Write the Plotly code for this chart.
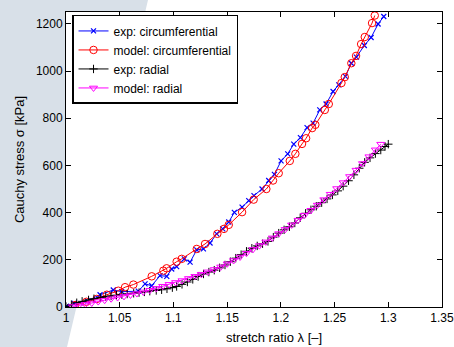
import plotly.graph_objects as go

# ---------------- data ----------------
exp_circ_lambda = [1.0006, 1.0075, 1.020, 1.0317, 1.044, 1.0518, 1.0673, 1.0736, 1.0798,
                   1.0875, 1.0938, 1.0984, 1.1030, 1.1101, 1.1155, 1.1217, 1.1279, 1.1341,
                   1.1403, 1.1459, 1.1515, 1.1567, 1.1639, 1.1701, 1.1750, 1.1825, 1.1887,
                   1.1940, 1.2002, 1.2064, 1.2120, 1.2182, 1.2244, 1.2300, 1.2362, 1.2421,
                   1.2486, 1.2539, 1.2601, 1.2656, 1.2703, 1.2777, 1.2840, 1.2905, 1.2958]
exp_circ_stress = [3, 16, 26, 52, 72, 65, 67, 98, 90,
                   133, 130, 161, 171, 204, 190, 242, 246, 271,
                   310, 331, 360, 401, 423, 451, 472, 500, 536,
                   562, 619, 649, 690, 718, 760, 779, 835, 860,
                   913, 941, 977, 1033, 1059, 1108, 1142, 1199, 1231]

model_circ_lambda = [1.0084, 1.019, 1.0286, 1.038, 1.0487, 1.055, 1.0627, 1.0798, 1.0906,
                     1.0937, 1.103, 1.1077, 1.1217, 1.1294, 1.1409, 1.1471, 1.1515, 1.1639,
                     1.1747, 1.1865, 1.1927, 1.1980, 1.2083, 1.2135, 1.2197, 1.2235, 1.2291,
                     1.2321, 1.2409, 1.2446, 1.2564, 1.2595, 1.2656, 1.2700, 1.2747, 1.2781,
                     1.2849, 1.2874]
model_circ_stress = [8, 22, 34, 52, 69, 84, 95, 130, 154,
                     164, 192, 204, 246, 267, 310, 331, 348, 402,
                     455, 500, 536, 567, 619, 649, 691, 715, 758,
                     772, 835, 860, 949, 974, 1033, 1064, 1114, 1144,
                     1203, 1235]

exp_rad_lambda = [1.000, 1.005, 1.010, 1.015, 1.021, 1.026, 1.032, 1.037, 1.042, 1.047,
                  1.052, 1.057, 1.063, 1.068, 1.073, 1.078, 1.084, 1.089, 1.094, 1.099,
                  1.103, 1.108, 1.113, 1.118, 1.123, 1.128, 1.133, 1.138, 1.143, 1.148,
                  1.153, 1.158, 1.163, 1.168, 1.173, 1.178, 1.183, 1.188, 1.193, 1.198,
                  1.203, 1.208, 1.213, 1.218, 1.223, 1.228, 1.233, 1.238, 1.243, 1.248,
                  1.253, 1.258, 1.263, 1.268, 1.273, 1.278, 1.283, 1.288, 1.293, 1.297, 1.300]
exp_rad_stress = [2, 10, 18, 24, 30, 35, 40, 44, 47, 50,
                  52, 55, 58, 61, 64, 67, 70, 73, 77, 82,
                  87, 96, 106, 117, 129, 140, 148, 156, 166, 178,
                  192, 207, 222, 236, 249, 259, 268, 278, 296, 313,
                  327, 340, 356, 378, 397, 412, 427, 442, 458, 475,
                  492, 512, 535, 560, 588, 613, 632, 650, 665, 680, 690]

model_rad_lambda = [1.006, 1.012, 1.018, 1.024, 1.030, 1.036, 1.042, 1.048, 1.054, 1.060,
                    1.066, 1.072, 1.078, 1.084, 1.090, 1.096, 1.102, 1.108, 1.114, 1.120,
                    1.126, 1.132, 1.138, 1.144, 1.150, 1.156, 1.162, 1.168, 1.174, 1.180,
                    1.186, 1.192, 1.198, 1.204, 1.210, 1.216, 1.222, 1.228, 1.234, 1.240,
                    1.246, 1.252, 1.258, 1.264, 1.270, 1.276, 1.282, 1.288, 1.293]
model_rad_stress = [2, 6, 11, 17, 23, 29, 35, 40, 45, 51,
                    57, 64, 71, 79, 88, 96, 104, 112, 121, 130,
                    139, 149, 159, 170, 183, 197, 212, 228, 244, 260,
                    276, 293, 311, 329, 348, 368, 389, 410, 432, 455,
                    478, 502, 527, 553, 580, 608, 637, 666, 690]

x_ticks = [1.0, 1.05, 1.1, 1.15, 1.2, 1.25, 1.3, 1.35]
x_tick_labels = ["1", "1.05", "1.1", "1.15", "1.2", "1.25", "1.3", "1.35"]
y_ticks = [0, 200, 400, 600, 800, 1000, 1200]
y_tick_labels = ["0", "200", "400", "600", "800", "1000", "1200"]

series_names = ["exp: circumferential", "model: circumferential", "exp: radial", "model: radial"]
x_title = "stretch ratio λ [–]"
y_title = "Cauchy stress σ [kPa]"

# ---------------- figure ----------------
W, H = 454, 347
ML, MR, MT, MB = 66, 12, 12, 40
FONT = "Liberation Sans, Arial, Helvetica, sans-serif"

fig = go.Figure()
fig.add_trace(go.Scatter(
    x=exp_circ_lambda, y=exp_circ_stress, name=series_names[0], mode="lines+markers",
    line=dict(color="#0000ff", width=1),
    marker=dict(symbol="x-thin", size=5, line=dict(color="#0000ff", width=1.2))))
fig.add_trace(go.Scatter(
    x=model_circ_lambda, y=model_circ_stress, name=series_names[1], mode="lines+markers",
    line=dict(color="#ff0000", width=1),
    marker=dict(symbol="circle-open", size=7.5, color="#ff0000", line=dict(width=1))))
fig.add_trace(go.Scatter(
    x=exp_rad_lambda, y=exp_rad_stress, name=series_names[2], mode="lines+markers",
    line=dict(color="#000000", width=1),
    marker=dict(symbol="cross-thin", size=6, line=dict(color="#000000", width=1))))
fig.add_trace(go.Scatter(
    x=model_rad_lambda, y=model_rad_stress, name=series_names[3], mode="lines+markers",
    line=dict(color="#ff00ff", width=1),
    marker=dict(symbol="triangle-down-open", size=7, color="#ff00ff", line=dict(width=1))))

# light bluish background wedge on the left (outside the plot area); pixel coords
pw = W - ML - MR
ph = H - MT - MB


def px(xp):
    return (xp - ML) / pw


def py(yp):
    return (H - MB - yp) / ph


L, T, R, B = ML, MT, W - MR, H - MB
pts = [(0, 0), (148, 0), (145.2, T), (L, T), (L, B), (76.5, B), (67, H), (0, H)]
path = "M " + " L ".join(f"{px(a):.4f},{py(b):.4f}" for a, b in pts) + " Z"
fig.add_shape(type="path", path=path, xref="paper", yref="paper",
              fillcolor="#d8e0e8", line=dict(width=0), layer="below")

axis_common = dict(
    showline=True, linecolor="black", linewidth=1, mirror="allticks",
    ticks="inside", ticklen=5, tickcolor="black", tickwidth=1,
    showgrid=False, zeroline=False, automargin=False, ticklabeloverflow="allow",
    tickfont=dict(family=FONT, size=12, color="black"),
)
fig.update_xaxes(range=[1.0, 1.35], tickvals=x_ticks, ticktext=x_tick_labels, **axis_common)
fig.update_yaxes(range=[0, 1250], tickvals=y_ticks, ticktext=y_tick_labels,
                 title=dict(text=y_title, font=dict(family=FONT, size=13, color="black"),
                            standoff=8),
                 **axis_common)

# x-axis title (offset to the right of centre as in the reference)
fig.add_annotation(text=x_title, xref="paper", yref="paper", x=px(274), y=py(338),
                   xanchor="center", yanchor="middle", showarrow=False,
                   font=dict(family=FONT, size=13, color="black"))

fig.update_layout(
    width=W, height=H,
    margin=dict(l=ML, r=MR, t=MT, b=MB, pad=0),
    paper_bgcolor="white", plot_bgcolor="white",
    font=dict(family=FONT, size=13, color="black"),
    showlegend=True,
    legend=dict(x=0.016, y=0.99, xanchor="left", yanchor="top",
                bgcolor="white", bordercolor="black", borderwidth=1.5,
                font=dict(family=FONT, size=12, color="black"),
                itemwidth=30, tracegroupgap=0),
)

fig.write_html("out.html", config={"displayModeBar": False},
               post_script="document.body.style.margin='0';document.body.style.overflow='hidden';")
